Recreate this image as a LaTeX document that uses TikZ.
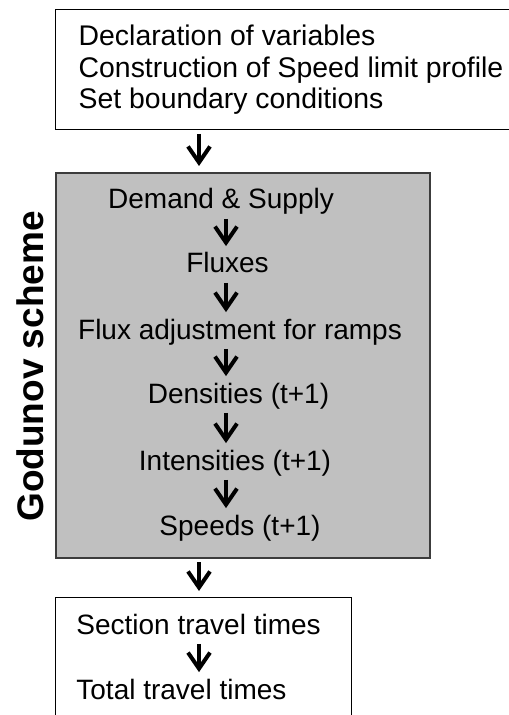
\documentclass[tikz,border=0pt]{standalone}
\usepackage{fontspec}
\setmainfont{Liberation Sans}
\usetikzlibrary{arrows.meta}
\definecolor{boxgray}{RGB}{192,192,192}
\definecolor{edgegray}{RGB}{60,60,60}
\tikzset{>={Straight Barb[length=8pt,width=11pt]}}
\tikzset{
  txt/.style={font=\fontsize{14}{15.75}\selectfont, inner sep=0pt, text height=10.25pt, text depth=3pt},
  flow/.style={->, line width=2pt, shorten <=1.75pt, shorten >=3pt},
}

\begin{document}
\begin{tikzpicture}[x=0.5pt, y=-0.5pt]
  \useasboundingbox (0,0) rectangle (508,715);
  \coordinate (outer) at (199,0);
  \coordinate (inner) at (226,0);

  % set up
  \node at (55,9) [draw, line width=0.7pt, anchor=north west, font=\fontsize{14.2}{15.75}\selectfont, align=flush left, text width=240pt, inner xsep=11.5pt, inner ysep=0pt, minimum height=60pt](setup){Declaration of variables\\Construction of Speed limit profile\\Set boundary conditions};

  % godunov scheme
  \node at (55,172) [anchor=north west, draw=edgegray, fill=boxgray, line width=0.9pt, minimum width=187pt, minimum height=192.5pt](scheme){};
  \node at (221,209) [txt, anchor=base](demand){Demand \& Supply};
  \node at (227.5,273) [txt, anchor=base](fluxes){Fluxes};
  \node at (240,339) [txt, anchor=base](adjust){Flux adjustment for ramps};
  \node at (238.5,403) [txt, anchor=base](dens){Densities (t+1)};
  \node at (235,470) [txt, anchor=base](inten){Intensities (t+1)};
  \node at (240,535) [txt, anchor=base](speeds){Speeds (t+1)};
  \node at (43,366.5) [rotate=90, anchor=base, font=\fontsize{18.5}{20}\selectfont\bfseries](label){Godunov scheme};
  \foreach \a/\b in {demand/fluxes, fluxes/adjust, adjust/dens, dens/inten, inten/speeds}
  \draw [flow] (\a.south -| inner) -- (\b.north -| inner);

  % travel times
  \node at (55,597) [anchor=north west, draw, line width=0.7pt, minimum width=148pt, minimum height=70pt](result){};
  \node at (76,634) [txt, anchor=base west](section){Section travel times};
  \node at (76,699) [txt, anchor=base west](total){Total travel times};

  \draw [flow] (setup.south -| outer) -- (scheme.north -| outer);
  \draw [flow] (scheme.south -| outer) -- (result.north -| outer);
  \draw [flow] (section.south -| outer) -- (total.north -| outer);
\end{tikzpicture}
\end{document}
